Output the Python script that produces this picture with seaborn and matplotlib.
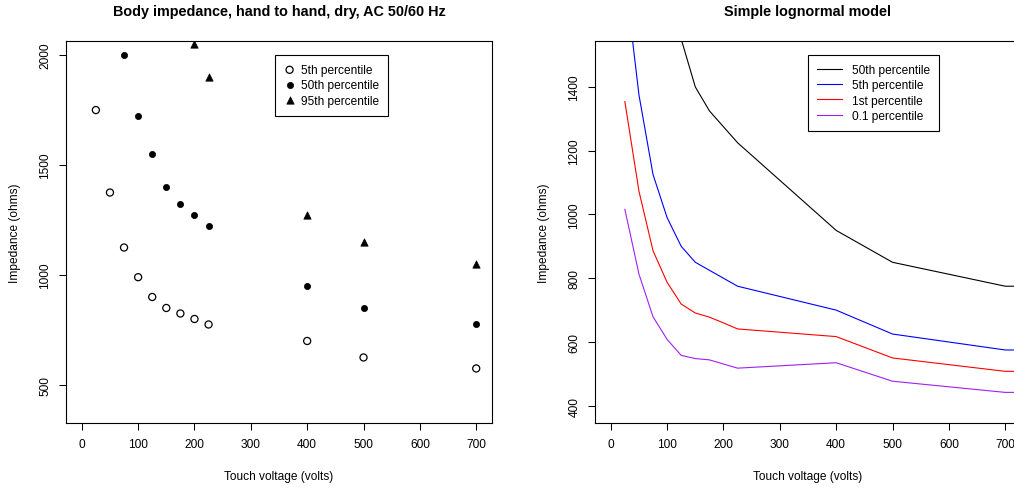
import numpy as np
import pandas as pd
import seaborn as sns
import matplotlib.pyplot as plt
from matplotlib.lines import Line2D

plt.rcParams.update({'font.size': 8.6})
plt.rcParams['font.family'] = ['Liberation Sans', 'DejaVu Sans']

# touch voltage (V) and measured body impedance (ohms), hand to hand, dry
volts = [25, 50, 75, 100, 125, 150, 175, 200, 225, 400, 500, 700, 1000]
p5 = [1750, 1375, 1125, 990, 900, 850, 825, 800, 775, 700, 625, 575, 575]
p50 = [3250, 2500, 2000, 1725, 1550, 1400, 1325, 1275, 1225, 950, 850, 775, 775]
p95 = [6100, 4600, 3600, 3125, 2675, 2350, 2175, 2050, 1900, 1275, 1150, 1050, 1050]

# lognormal model, lower tail
p1 = [1354, 1073, 886, 787, 719, 691, 678, 660, 641, 617, 550, 508, 508]
p01 = [1016, 813, 679, 608, 558, 548, 544, 531, 518, 535, 477, 442, 442]

W, H = 1014, 489
fig = plt.figure(figsize=(W / 100, H / 100), dpi=100)
ax1 = fig.add_axes([66 / W, 1 - 424 / H, 426 / W, 382 / H])
ax2 = fig.add_axes([595 / W, 1 - 424 / H, 426 / W, 382 / H])

# left: measured points
sns.scatterplot(x=volts, y=p5, marker="o", s=26, facecolors="none",
                edgecolors="black", linewidth=0.9, label="5th percentile", ax=ax1)
sns.scatterplot(x=volts, y=p50, marker="o", s=20, color="black",
                edgecolor="black", linewidth=0.5, label="50th percentile", ax=ax1)
sns.scatterplot(x=volts, y=p95, marker="^", s=28, color="black",
                edgecolor="black", linewidth=0.5, label="95th percentile", ax=ax1)

# right: model curves
model = pd.DataFrame({
    "volts": volts * 4,
    "ohms": p50 + p5 + p1 + p01,
    "series": (["50th percentile"] * len(volts) + ["5th percentile"] * len(volts)
               + ["1st percentile"] * len(volts) + ["0.1 percentile"] * len(volts)),
})
order = ["50th percentile", "5th percentile", "1st percentile", "0.1 percentile"]
palette = dict(zip(order, ["black", "#0000FF", "#FF0000", "#A020F0"]))
sns.lineplot(data=model, x="volts", y="ohms", hue="series", hue_order=order,
             palette=palette, linewidth=0.8, ax=ax2)

ax1.set_xlim(-28, 728)
ax1.set_ylim(327, 2064)
ax1.set_yticks([500, 1000, 1500, 2000])
ax2.set_xlim(-28, 728)
ax2.set_ylim(346, 1544)
ax2.set_yticks([400, 600, 800, 1000, 1200, 1400])

titles = ["Body impedance, hand to hand, dry, AC 50/60 Hz", "Simple lognormal model"]
for ax, title in zip((ax1, ax2), titles):
    ax.set_xticks([0, 100, 200, 300, 400, 500, 600, 700])
    ax.set_xlabel("Touch voltage (volts)")
    ax.set_ylabel("Impedance (ohms)")
    ax.xaxis.set_label_coords(0.5, -0.1387)
    ax.xaxis.label.set_va("center")
    ax.yaxis.set_label_coords(-0.1197, 0.5)
    ax.yaxis.label.set_va("center")
    ax.set_title(title, fontweight="bold", fontsize=10.4, y=1.0785, pad=0, va="center")
    ax.tick_params(direction="out", length=5, width=0.75, color="black", pad=6)
    ax.tick_params(axis="y", pad=5.5)
    for lab in ax.get_yticklabels():
        lab.set_rotation(90)
        lab.set_va("center")
    for sp in ax.spines.values():
        sp.set_linewidth(0.8)
        sp.set_color("black")

leg_kw = dict(loc="upper right", borderaxespad=0, fancybox=False, framealpha=1,
              edgecolor="black", labelspacing=0.28, borderpad=0.75)
l1 = ax1.legend(bbox_to_anchor=(0.7559, 0.9634), handlelength=0.9,
                handletextpad=0.5, **leg_kw)
l1.get_frame().set_linewidth(0.8)

handles = [Line2D([], [], color=palette[k], linewidth=0.8) for k in order]
l2 = ax2.legend(handles, order, bbox_to_anchor=(0.8075, 0.9634), handlelength=2.1,
                handletextpad=0.85, **leg_kw)
l2.get_frame().set_linewidth(0.8)

fig.savefig("out.png", dpi=100)
